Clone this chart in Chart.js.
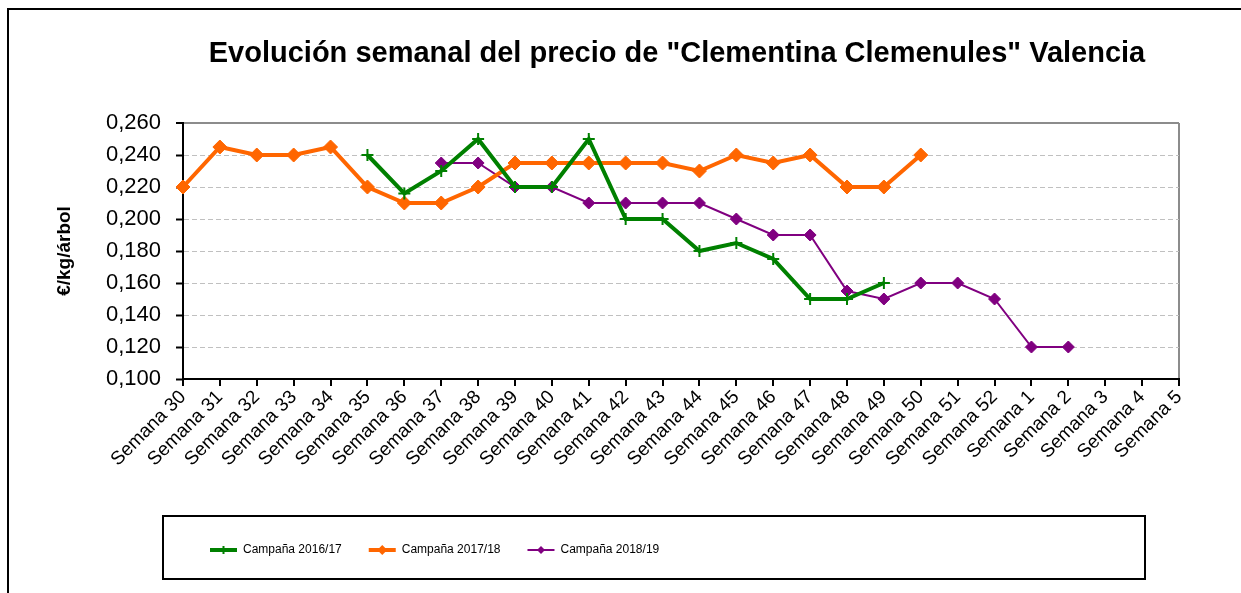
<!DOCTYPE html>
<html>
<head>
<meta charset="utf-8">
<title>Clementina Clemenules</title>
<script src="https://cdn.jsdelivr.net/npm/chart.js@4.4.1/dist/chart.umd.min.js"></script>
<style>
    html, body { margin: 0; padding: 0; background: #fff; }
    canvas { display: block; }
</style>
</head>
<body>
<canvas id="precioChart" width="1241" height="593"></canvas>
<script>
const titulo = 'Evolución semanal del precio de "Clementina Clemenules" Valencia';
const semanas = [
    'Semana 30', 'Semana 31', 'Semana 32', 'Semana 33', 'Semana 34', 'Semana 35', 'Semana 36',
    'Semana 37', 'Semana 38', 'Semana 39', 'Semana 40', 'Semana 41', 'Semana 42', 'Semana 43',
    'Semana 44', 'Semana 45', 'Semana 46', 'Semana 47', 'Semana 48', 'Semana 49', 'Semana 50',
    'Semana 51', 'Semana 52', 'Semana 1', 'Semana 2', 'Semana 3', 'Semana 4', 'Semana 5'
];
const campana1617 = [
    null, null, null, null, null, 0.240, 0.216, 0.230, 0.250, 0.220, 0.220, 0.250, 0.200, 0.200,
    0.180, 0.185, 0.175, 0.150, 0.150, 0.160, null, null, null, null, null, null, null, null
];
const campana1718 = [
    0.220, 0.245, 0.240, 0.240, 0.245, 0.220, 0.210, 0.210, 0.220, 0.235, 0.235, 0.235, 0.235, 0.235,
    0.230, 0.240, 0.235, 0.240, 0.220, 0.220, 0.240, null, null, null, null, null, null, null
];
const campana1819 = [
    null, null, null, null, null, null, null, 0.235, 0.235, 0.220, 0.220, 0.210, 0.210, 0.210,
    0.210, 0.200, 0.190, 0.190, 0.155, 0.150, 0.160, 0.160, 0.150, 0.120, 0.120, null, null, null
];
const ejeY = { min: 0.100, max: 0.260, paso: 0.020 };

Chart.defaults.font.family = '"Liberation Sans", Arial, sans-serif';
Chart.defaults.color = '#000';

// dibuja el marcador de la serie encima de la linea de la leyenda
function dibujaMarcador(ctx, estilo, x, y, r, color) {
    ctx.save();
    ctx.fillStyle = color;
    ctx.strokeStyle = color;
    ctx.lineWidth = 2;
    ctx.beginPath();
    if (estilo === 'cross') {
        ctx.moveTo(x - r, y); ctx.lineTo(x + r, y);
        ctx.moveTo(x, y - r); ctx.lineTo(x, y + r);
        ctx.stroke();
    } else {
        ctx.moveTo(x, y - r); ctx.lineTo(x + r, y);
        ctx.lineTo(x, y + r); ctx.lineTo(x - r, y);
        ctx.closePath();
        ctx.fill();
    }
    ctx.restore();
}

const marcoPlugin = {
    id: 'marco',
    beforeDraw(chart) {
        const ctx = chart.ctx;
        ctx.save();
        ctx.fillStyle = '#fff';
        ctx.fillRect(0, 0, chart.width, chart.height);
        ctx.strokeStyle = '#000';
        ctx.lineWidth = 2;
        ctx.beginPath();
        ctx.moveTo(8, chart.height);
        ctx.lineTo(8, 9);
        ctx.lineTo(chart.width, 9);
        ctx.stroke();
        ctx.restore();
    },
    afterDraw(chart) {
        const ctx = chart.ctx;
        const a = chart.chartArea;
        const lg = chart.legend;

        ctx.save();
        ctx.font = 'bold 29px "Liberation Sans", Arial, sans-serif';
        ctx.fillStyle = '#000';
        ctx.textAlign = 'center';
        ctx.textBaseline = 'middle';
        ctx.fillText(titulo, (a.left + a.right) / 2 - 4, 54);

        // recuadro de la leyenda
        ctx.strokeStyle = '#000';
        ctx.lineWidth = 2;
        ctx.strokeRect(a.left - 20, lg.top - 1, (a.right - 34) - (a.left - 20), 63);
        ctx.restore();

        const fontSize = lg.options.labels.font.size;
        lg.legendHitBoxes.forEach((hb, i) => {
            const ds = chart.data.datasets[lg.legendItems[i].datasetIndex];
            dibujaMarcador(ctx, ds.pointStyle, hb.left + lg.options.labels.boxWidth / 2,
                hb.top + fontSize / 2, ds.pointRadius - 2, ds.borderColor);
        });
    }
};

const esArriba = v => v >= ejeY.max - 0.0001;
const esAbajo = v => v <= ejeY.min + 0.0001;

new Chart(document.getElementById('precioChart'), {
    type: 'line',
    data: {
        labels: semanas,
        datasets: [{
            label: 'Campaña 2016/17',
            data: campana1617,
            borderColor: '#008000',
            backgroundColor: '#008000',
            borderWidth: 4,
            pointStyle: 'cross',
            pointRadius: 6,
            pointBorderWidth: 2,
            pointBorderColor: '#008000',
            tension: 0,
            clip: false
        }, {
            label: 'Campaña 2017/18',
            data: campana1718,
            borderColor: '#ff6600',
            backgroundColor: '#ff6600',
            borderWidth: 4,
            pointStyle: 'rectRot',
            pointRadius: 7,
            pointBorderWidth: 1,
            pointBackgroundColor: '#ff6600',
            pointBorderColor: '#ff6600',
            tension: 0,
            clip: false
        }, {
            label: 'Campaña 2018/19',
            data: campana1819,
            borderColor: '#800080',
            backgroundColor: '#800080',
            borderWidth: 2,
            pointStyle: 'rectRot',
            pointRadius: 6,
            pointBorderWidth: 1,
            pointBackgroundColor: '#800080',
            pointBorderColor: '#800080',
            tension: 0,
            clip: false
        }]
    },
    options: {
        responsive: false,
        animation: false,
        layout: { padding: { left: 53, right: 62, top: 123, bottom: 27 } },
        scales: {
            x: {
                offset: false,
                grid: {
                    offset: false,
                    drawOnChartArea: true,
                    color: c => c.index === semanas.length - 1 ? '#8c8c8c' : 'rgba(0,0,0,0)',
                    lineWidth: 2,
                    tickColor: '#000',
                    tickLength: 7,
                    tickWidth: 2
                },
                border: { color: '#000', width: 2 },
                ticks: {
                    autoSkip: false,
                    maxRotation: 45,
                    minRotation: 45,
                    padding: 0,
                    color: '#000',
                    font: { size: 19 }
                },
                afterFit: s => { s.height = 138; }
            },
            y: {
                min: ejeY.min,
                max: ejeY.max,
                grid: {
                    color: c => {
                        if (!c.tick || esAbajo(c.tick.value)) return 'rgba(0,0,0,0)';
                        return esArriba(c.tick.value) ? '#8c8c8c' : '#c0c0c0';
                    },
                    lineWidth: c => c.tick && esArriba(c.tick.value) ? 2 : 1,
                    tickColor: '#000',
                    tickLength: 7,
                    tickWidth: 2
                },
                border: {
                    color: '#000',
                    width: 2,
                    dash: c => (c.tick && !esArriba(c.tick.value)) ? [5, 3] : []
                },
                ticks: {
                    stepSize: ejeY.paso,
                    padding: 15,
                    color: '#000',
                    font: { size: 22 },
                    callback: v => v.toFixed(3).replace('.', ',')
                },
                title: {
                    display: true,
                    text: '€/kg/árbol',
                    color: '#000',
                    font: { size: 19, weight: 'bold' },
                    padding: 0
                },
                afterFit: s => { s.width = 130; }
            }
        },
        plugins: {
            title: { display: false },
            tooltip: { enabled: false },
            legend: {
                position: 'bottom',
                align: 'start',
                fullSize: false,
                labels: {
                    boxWidth: 27,
                    boxHeight: 0,
                    padding: 27,
                    color: '#000',
                    font: { size: 12 },
                    sort: (a, b) => a.datasetIndex - b.datasetIndex
                }
            }
        }
    },
    plugins: [marcoPlugin]
});
</script>
</body>
</html>
